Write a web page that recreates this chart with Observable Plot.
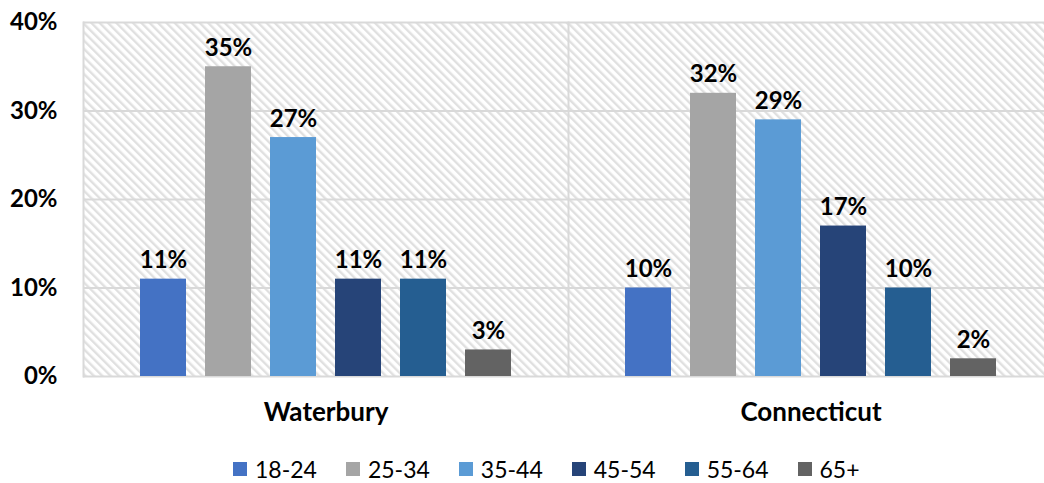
<!DOCTYPE html>
<html>
<head>
<meta charset="utf-8">
<script src="https://cdn.jsdelivr.net/npm/d3@7"></script>
<script src="https://cdn.jsdelivr.net/npm/@observablehq/plot@0.6"></script>
<style>
  html, body { margin: 0; padding: 0; background: #fff; overflow: hidden; }
  body { width: 1044px; height: 483px; font-family: Lato, "Open Sans", sans-serif; }
  #legend { display: flex; align-items: center; gap: 29px; padding-left: 233px; margin-top: 15px; height: 28px; font-size: 23px; color: #000; }
  #legend .item { display: flex; align-items: center; gap: 8px; }
  #legend .sw { width: 14px; height: 14px; display: inline-block; }
</style>
</head>
<body>
<div id="chart"></div>
<div id="legend"></div>
<script>
const groups = ["Waterbury", "Connecticut"];
const ages = ["18-24", "25-34", "35-44", "45-54", "55-64", "65+"];
const waterbury = [11, 35, 27, 11, 11, 3];
const connecticut = [10, 32, 29, 17, 10, 2];
const colors = ["#4472C4", "#A5A5A5", "#5B9BD5", "#264478", "#255E91", "#636363"];
const yTicks = [0, 10, 20, 30, 40];

const data = [];
ages.forEach((a, i) => data.push({group: groups[0], age: a, value: waterbury[i]}));
ages.forEach((a, i) => data.push({group: groups[1], age: a, value: connecticut[i]}));

const chart = Plot.plot({
  width: 1044,
  height: 440,
  marginLeft: 83,
  marginRight: 0,
  marginTop: 22,
  marginBottom: 64,
  style: {fontFamily: "Lato, 'Open Sans', sans-serif", color: "#000", background: "transparent"},
  fx: {domain: groups, padding: 0, range: [83, 1053], label: null},
  x: {domain: ages, paddingInner: 0.3, paddingOuter: 0.87, axis: null},
  y: {domain: [0, 40], ticks: yTicks, label: null},
  color: {domain: ages, range: colors},
  marks: [
    Plot.frame({fill: "url(#hatch)", stroke: null}),
    Plot.ruleY([10, 20, 30, 40], {stroke: "#d9d9d9", strokeWidth: 2}),
    Plot.ruleY([0], {stroke: "#d9d9d9", strokeWidth: 2}),
    Plot.frame({anchor: "left", stroke: "#d9d9d9", strokeWidth: 2}),
    Plot.barY(data, {fx: "group", x: "age", y: "value", fill: "age"}),
    Plot.text(data, {fx: "group", x: "age", y: "value", text: d => d.value + "%", lineAnchor: "bottom", dy: -11, fontSize: 24, fontWeight: "bold", fill: "#000"}),
    Plot.axisY({ticks: yTicks, tickFormat: d => d + "%", tickSize: 0, tickPadding: 26, fontSize: 24, fontWeight: "bold", label: null}),
    Plot.axisFx({anchor: "bottom", tickSize: 0, tickPadding: 26, fontSize: 26, fontWeight: "bold", label: null})
  ]
});

const ns = "http://www.w3.org/2000/svg";
const svg = chart.tagName.toLowerCase() === "svg" ? chart : chart.querySelector("svg");
const defs = document.createElementNS(ns, "defs");
const pat = document.createElementNS(ns, "pattern");
pat.setAttribute("id", "hatch");
pat.setAttribute("patternUnits", "userSpaceOnUse");
pat.setAttribute("width", "5.9");
pat.setAttribute("height", "5.9");
pat.setAttribute("patternTransform", "rotate(-45)");
const bg = document.createElementNS(ns, "rect");
bg.setAttribute("width", "5.9"); bg.setAttribute("height", "5.9"); bg.setAttribute("fill", "#ffffff");
const ln = document.createElementNS(ns, "rect");
ln.setAttribute("x", "0"); ln.setAttribute("y", "0"); ln.setAttribute("width", "2.4"); ln.setAttribute("height", "5.9"); ln.setAttribute("fill", "#e0e0e0");
pat.appendChild(bg); pat.appendChild(ln);
defs.appendChild(pat);
svg.insertBefore(defs, svg.firstChild);

document.getElementById("chart").appendChild(chart);

const legend = document.getElementById("legend");
ages.forEach((a, i) => {
  const item = document.createElement("span");
  item.className = "item";
  const sw = document.createElement("span");
  sw.className = "sw";
  sw.style.background = colors[i];
  const t = document.createElement("span");
  t.textContent = a;
  item.appendChild(sw); item.appendChild(t);
  legend.appendChild(item);
});
</script>
</body>
</html>
